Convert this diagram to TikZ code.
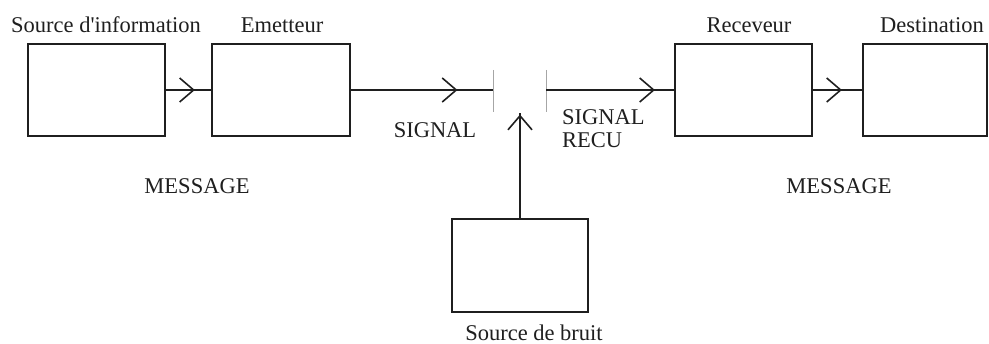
\documentclass[tikz,border=0pt]{standalone}
\usepackage{fontspec}
\setmainfont{Liberation Serif}
\usetikzlibrary{arrows.meta,decorations.markings}
\definecolor{ink}{gray}{0.12}
\tikzset{
  blk/.style={draw=ink,line width=1.7pt,rectangle,minimum width=#1,minimum height=92pt,inner sep=0pt},
  lbl/.style={text=ink,font=\fontsize{22.5}{26}\selectfont,inner sep=0pt},
  wire/.style={draw=ink,line width=1.6pt},
  chev/.style={postaction={decorate,decoration={markings,mark=at position #1 with {\arrow[ink,line width=1.6pt]{Straight Barb[length=14pt,width=24pt]}}}}},
  tick/.style={draw=gray!70,line width=0.9pt}
}
\begin{document}
\begin{tikzpicture}[x=1pt,y=-1pt]
\useasboundingbox (0,0) rectangle (989,344);
% boxes
\node[blk=137pt] (src) at (96.5,90) {};
\node[blk=138pt] (emt) at (281,90) {};
\node[blk=137pt] (rec) at (743.5,90) {};
\node[blk=124pt] (dst) at (925,90) {};
\node[blk=136pt,minimum height=93pt] (nse) at (520,265.5) {};
% gap ticks
\coordinate (t1) at (493,90);
\coordinate (t2) at (546,90);
\coordinate (t1a) at (493,70); \coordinate (t1b) at (493,112);
\coordinate (t2a) at (546,70); \coordinate (t2b) at (546,112);
\draw[tick] (t1a) -- (t1b);
\draw[tick] (t2a) -- (t2b);
\coordinate (ntop) at (520,113);
% connectors
\draw[wire,chev=0.64] (src.east) -- (emt.west);
\draw[wire,chev=0.75] (emt.east) -- (t1);
\draw[wire,chev=0.85] (t2) -- (rec.west);
\draw[wire,chev=0.59] (rec.east) -- (dst.west);
\draw[wire,chev=0.985] (nse.north) -- (ntop);
% labels
\node[lbl] (lsrc) at (106,25) {Source d\textquotesingle information};
\node[lbl] (lemt) at (282,25) {Emetteur};
\node[lbl] (lrec) at (749,25) {Receveur};
\node[lbl] (ldst) at (932,25) {Destination};
\node[lbl] (lsig) at (435,130) {SIGNAL};
\node[lbl,align=left,anchor=west,font=\fontsize{22.5}{23}\selectfont] (lrecu) at (562,128.5) {SIGNAL\\RECU};
\node[lbl] (lmsg1) at (197,186) {MESSAGE};
\node[lbl] (lmsg2) at (839,186) {MESSAGE};
\node[lbl] (lnse) at (534,333) {Source de bruit};
\end{tikzpicture}
\end{document}
